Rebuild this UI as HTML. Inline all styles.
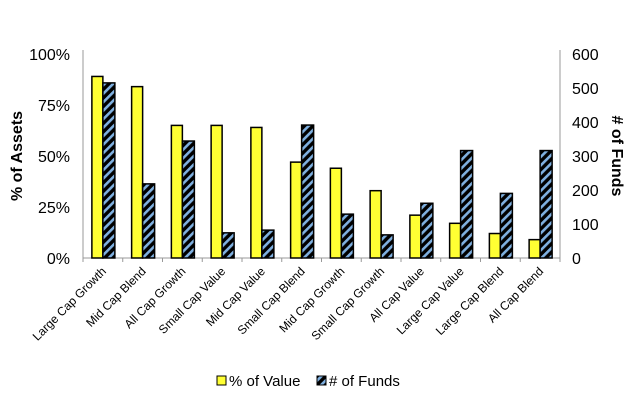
<!DOCTYPE html>
<html><head><meta charset="utf-8"><style>
body{margin:0;background:#fff;font-family:"Liberation Sans",Arial,sans-serif;}
</style></head><body>
<svg id="c" width="630" height="409" xmlns="http://www.w3.org/2000/svg">
<defs>
<pattern id="hatch" width="6" height="6" patternUnits="userSpaceOnUse" patternTransform="rotate(45)">
<rect width="6" height="6" fill="#000"/><rect x="0" y="0" width="2.6" height="6" fill="#7fb0e0"/>
</pattern>
</defs>
<g id="g"></g>
</svg>
<script>
const categories=["Large Cap Growth","Mid Cap Blend","All Cap Growth","Small Cap Value","Mid Cap Value","Small Cap Blend","Mid Cap Growth","Small Cap Growth","All Cap Value","Large Cap Value","Large Cap Blend","All Cap Blend"];
const pctValue=[89,84,65,65,64,47,44,33,21,17,12,9];
const numFunds=[515,218,344,74,82,391,129,68,161,316,190,316];
const leftTicks=["0%","25%","50%","75%","100%"];
const rightTicks=["0","100","200","300","400","500","600"];
const NS="http://www.w3.org/2000/svg";
const g=document.getElementById('g');
const X0=83,X1=560,Y0=258,Y1=54;
const bw=(X1-X0)/categories.length;
const yL=v=>Y0-(v/100)*(Y0-Y1);
const yR=v=>Y0-(v/600)*(Y0-Y1);
function mk(t,a,txt){const e=document.createElementNS(NS,t);for(const k in a)e.setAttribute(k,a[k]);if(txt!==undefined)e.textContent=txt;g.appendChild(e);return e;}
let e;
e=mk('line',{x1:X0,y1:Y1-4,x2:X0,y2:Y0,stroke:'#999'});


e=mk('line',{x1:X1,y1:Y1-4,x2:X1,y2:Y0,stroke:'#999'});


e=mk('line',{x1:X0,y1:Y0,x2:X1,y2:Y0,stroke:'#999'});


leftTicks.forEach((t,i)=>{
 e=mk('text',{x:X0-13,y:yL(i*25)+6,'text-anchor':'end','font-size':16},t);
 
 
});
rightTicks.forEach((t,i)=>{
 e=mk('text',{x:X1+12,y:yR(i*100)+6,'text-anchor':'start','font-size':16},t);
 
 
});
for(let i=0;i<=categories.length;i++){
 e=mk('line',{x1:X0+i*bw,y1:Y0,x2:X0+i*bw,y2:Y0+4,stroke:'#999'});
 
 
}
categories.forEach((c,i)=>{
 const cx=X0+(i+0.5)*bw;
 e=mk('rect',{x:cx-11,y:yL(pctValue[i]),width:11,height:Y0-yL(pctValue[i]),fill:'#ffff33',stroke:'#000','stroke-width':1.5});
 
 
 e=mk('rect',{x:cx,y:yR(numFunds[i]),width:12,height:Y0-yR(numFunds[i]),fill:'url(#hatch)',stroke:'#000','stroke-width':1.5});
 
 
 e=mk('text',{x:cx+4,y:Y0+14,'text-anchor':'end','font-size':12,transform:`rotate(-45 ${cx+4} ${Y0+14})`},c);
 
 
});
e=mk('text',{x:22,y:156,'text-anchor':'middle','font-size':16,'font-weight':'bold',transform:'rotate(-90 22 156)'},'% of Assets');


e=mk('text',{x:612,y:156,'text-anchor':'middle','font-size':16,'font-weight':'bold',transform:'rotate(90 612 156)'},'# of Funds');


e=mk('rect',{x:217,y:376,width:9,height:9,fill:'#ffff33',stroke:'#000'});


e=mk('text',{x:229,y:386,'font-size':15},'% of Value');


e=mk('rect',{x:317,y:376,width:9,height:9,fill:'url(#hatch)',stroke:'#000'});


e=mk('text',{x:329,y:386,'font-size':15},'# of Funds');


</script>
</body></html>
